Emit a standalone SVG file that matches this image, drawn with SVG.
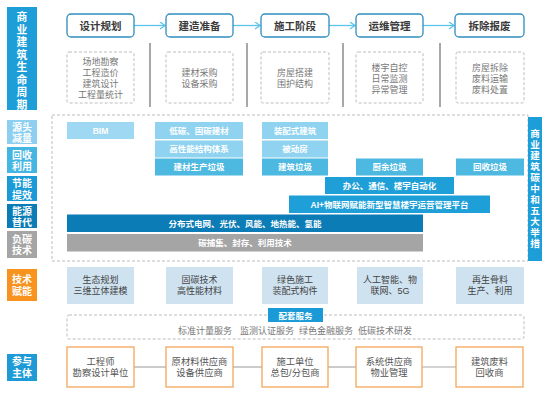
<svg xmlns="http://www.w3.org/2000/svg" width="554" height="402" viewBox="0 0 554 402">
<defs>
<style>
text{font-family:"Liberation Sans","Noto Sans CJK SC",sans-serif;}
.stage{fill:#fff;stroke:#2f8dbd;stroke-width:1.3;}
.stageT{font-size:10.5px;font-weight:700;fill:#3a3a3a;text-anchor:middle;}
.dash{fill:#fff;stroke:#bdbdbd;stroke-width:1;stroke-dasharray:3 2;}
.gt{font-size:9px;fill:#777;text-anchor:middle;}
.sep{stroke:#a8a8a8;stroke-width:2;}
.wt{font-size:10px;font-weight:700;fill:#fff;text-anchor:middle;}
.bt{font-size:8.5px;font-weight:700;fill:#fff;text-anchor:middle;}
.tech{fill:#cfe2f0;}
.tt{font-size:9px;fill:#444;text-anchor:middle;}
.part{fill:#fff;stroke:#f5a65b;stroke-width:1.3;}
.pt{font-size:9.3px;fill:#555;text-anchor:middle;}
.arr{stroke:#5bc4ea;stroke-width:1.3;fill:none;}
.gl{stroke:#a8a8a8;stroke-width:1.2;}
</style>
<marker id="ah" markerWidth="8" markerHeight="8" refX="6" refY="4" orient="auto" markerUnits="userSpaceOnUse">
<path d="M1,0.5 L6,4 L1,7.5" fill="none" stroke="#5bc4ea" stroke-width="1.3"/>
</marker>
</defs>
<rect width="554" height="402" fill="#fff"/>

<!-- left title bar -->
<g id="lifecycle-title">
<rect x="7" y="7" width="30" height="103" fill="#1e9ed8"/>
<text class="wt" style="font-size:10.8px"><tspan x="22" y="21">商</tspan><tspan x="22" y="33.5">业</tspan><tspan x="22" y="46">建</tspan><tspan x="22" y="58.5">筑</tspan><tspan x="22" y="71">生</tspan><tspan x="22" y="83.5">命</tspan><tspan x="22" y="96">周</tspan><tspan x="22" y="108.5">期</tspan></text>
</g>

<!-- connectors -->
<g id="connectors">
<line class="arr" x1="134" y1="25.5" x2="165" y2="25.5" marker-end="url(#ah)"/>
<line class="arr" x1="233" y1="25.5" x2="260" y2="25.5" marker-end="url(#ah)"/>
<line class="arr" x1="329" y1="25.5" x2="355" y2="25.5" marker-end="url(#ah)"/>
<line class="arr" x1="423" y1="25.5" x2="454" y2="25.5" marker-end="url(#ah)"/>
<line class="sep" x1="150" y1="43" x2="150" y2="107"/>
<line class="sep" x1="247" y1="43" x2="247" y2="107"/>
<line class="sep" x1="343" y1="43" x2="343" y2="107"/>
<line class="sep" x1="440" y1="43" x2="440" y2="107"/>
<line class="gl" x1="134" y1="367" x2="166" y2="367"/>
<line class="gl" x1="233" y1="367" x2="262" y2="367"/>
<line class="gl" x1="328" y1="367" x2="356" y2="367"/>
<line class="gl" x1="422" y1="367" x2="456" y2="367"/>
</g>

<!-- stages -->
<g id="stage-design">
<rect class="stage" x="67" y="14" width="67" height="23" rx="4"/>
<text class="stageT" x="100.5" y="29.5">设计规划</text>
<rect class="dash" x="67" y="52" width="67" height="51" rx="2"/>
<text class="gt" x="100.5" y="65">场地勘察</text>
<text class="gt" x="100.5" y="76">工程造价</text>
<text class="gt" x="100.5" y="87">建筑设计</text>
<text class="gt" x="100.5" y="98">工程量统计</text>
</g>
<g id="stage-prep">
<rect class="stage" x="166" y="14" width="67" height="23" rx="4"/>
<text class="stageT" x="199.5" y="29.5">建造准备</text>
<rect class="dash" x="166" y="52" width="67" height="51" rx="2"/>
<text class="gt" x="199.5" y="76">建材采购</text>
<text class="gt" x="199.5" y="87">设备采购</text>
</g>
<g id="stage-construct">
<rect class="stage" x="261" y="14" width="68" height="23" rx="4"/>
<text class="stageT" x="295" y="29.5">施工阶段</text>
<rect class="dash" x="261" y="52" width="68" height="51" rx="2"/>
<text class="gt" x="295" y="76">房屋搭建</text>
<text class="gt" x="295" y="87">围护结构</text>
</g>
<g id="stage-ops">
<rect class="stage" x="356" y="14" width="67" height="23" rx="4"/>
<text class="stageT" x="389.5" y="29.5">运维管理</text>
<rect class="dash" x="356" y="52" width="67" height="51" rx="2"/>
<text class="gt" x="389.5" y="71">楼宇自控</text>
<text class="gt" x="389.5" y="82">日常监测</text>
<text class="gt" x="389.5" y="93">异常管理</text>
</g>
<g id="stage-demolish">
<rect class="stage" x="455" y="14" width="69" height="23" rx="4"/>
<text class="stageT" x="489.5" y="29.5">拆除报废</text>
<rect class="dash" x="456" y="52" width="68" height="51" rx="2"/>
<text class="gt" x="490" y="71">房屋拆除</text>
<text class="gt" x="490" y="82">废料运输</text>
<text class="gt" x="490" y="93">废料处置</text>
</g>

<!-- measures frame -->
<g id="measures-frame">
<rect x="52" y="115" width="476" height="146" style="fill:none;stroke:#bdbdbd;stroke-width:1;stroke-dasharray:3 2"/>
</g>

<!-- category labels -->
<g id="cat-source">
<rect x="7" y="120" width="30" height="24" fill="#8ccff0"/>
<text class="wt" x="22" y="130.5">源头</text>
<text class="wt" x="22" y="142">减量</text>
</g>
<g id="cat-recycle">
<rect x="7" y="147" width="30" height="26" fill="#45b6e2"/>
<text class="wt" x="22" y="158.5">回收</text>
<text class="wt" x="22" y="170">利用</text>
</g>
<g id="cat-efficiency">
<rect x="7" y="176" width="30" height="25" fill="#1a9ad6"/>
<text class="wt" x="22" y="187">节能</text>
<text class="wt" x="22" y="198.5">提效</text>
</g>
<g id="cat-energy">
<rect x="7" y="204" width="30" height="24" fill="#0b7cb5"/>
<text class="wt" x="22" y="214.5">能源</text>
<text class="wt" x="22" y="226">替代</text>
</g>
<g id="cat-negative">
<rect x="7" y="231" width="30" height="27" fill="#a5a5a5"/>
<text class="wt" x="22" y="242.5">负碳</text>
<text class="wt" x="22" y="254">技术</text>
</g>

<!-- measure bars -->
<g id="bar-bim"><rect x="67" y="122" width="67" height="17" fill="#9fd8f2"/><text class="bt" x="100.5" y="133.5">BIM</text></g>
<g id="bar-lowcarbon"><rect x="155" y="122" width="88" height="17" fill="#8fd3f0"/><text class="bt" x="199" y="133.5">低碳、固碳建材</text></g>
<g id="bar-structure"><rect x="155" y="140.5" width="88" height="17" fill="#8fd3f0"/><text class="bt" x="199" y="152">高性能结构体系</text></g>
<g id="bar-matwaste"><rect x="155" y="158.5" width="88" height="17" fill="#4db8e0"/><text class="bt" x="199" y="170">建材生产垃圾</text></g>
<g id="bar-prefab"><rect x="262" y="122" width="66" height="17" fill="#8fd3f0"/><text class="bt" x="295" y="133.5">装配式建筑</text></g>
<g id="bar-passive"><rect x="262" y="140.5" width="66" height="17" fill="#8fd3f0"/><text class="bt" x="295" y="152">被动房</text></g>
<g id="bar-cwaste"><rect x="262" y="158.5" width="66" height="17" fill="#4db8e0"/><text class="bt" x="295" y="170">建筑垃圾</text></g>
<g id="bar-kitchen"><rect x="356" y="158.5" width="67" height="17" fill="#4db8e0"/><text class="bt" x="389.5" y="170">厨余垃圾</text></g>
<g id="bar-recyclable"><rect x="456" y="158.5" width="68" height="17" fill="#4db8e0"/><text class="bt" x="490" y="170">回收垃圾</text></g>
<g id="bar-office"><rect x="325" y="177" width="129" height="17" fill="#1f9fd8"/><text class="bt" x="389.5" y="188.5">办公、通信、楼宇自动化</text></g>
<g id="bar-ai"><rect x="289" y="195.5" width="201" height="17.5" fill="#1f9fd8"/><text class="bt" x="389.5" y="207.5">AI+物联网赋能新型智慧楼宇运营管理平台</text></g>
<g id="bar-grid"><rect x="67" y="214.5" width="356" height="17.5" fill="#0b7cb5"/><text class="bt" x="245" y="226.5">分布式电网、光伏、风能、地热能、氢能</text></g>
<g id="bar-ccus"><rect x="67" y="234" width="356" height="17.5" fill="#a5a5a5"/><text class="bt" x="245" y="246">碳捕集、封存、利用技术</text></g>

<!-- right bar -->
<g id="five-measures-title">
<rect x="528" y="117" width="14" height="144" fill="#1e9ed8"/>
<text class="wt" style="font-size:9.6px"><tspan x="535" y="137">商</tspan><tspan x="535" y="148">业</tspan><tspan x="535" y="159">建</tspan><tspan x="535" y="170">筑</tspan><tspan x="535" y="181">碳</tspan><tspan x="535" y="192">中</tspan><tspan x="535" y="203">和</tspan><tspan x="535" y="214">五</tspan><tspan x="535" y="225">大</tspan><tspan x="535" y="236">举</tspan><tspan x="535" y="247">措</tspan></text>
</g>

<!-- tech enablement -->
<g id="cat-tech">
<rect x="7" y="269" width="30" height="32" fill="#f7931e"/>
<text class="wt" x="22" y="282.5">技术</text>
<text class="wt" x="22" y="294.5">赋能</text>
</g>
<g id="tech-1"><rect class="tech" x="67" y="267" width="67" height="37"/><text class="tt" x="100.5" y="283">生态规划</text><text class="tt" x="100.5" y="294">三维立体建模</text></g>
<g id="tech-2"><rect class="tech" x="166" y="267" width="67" height="37"/><text class="tt" x="199.5" y="283">固碳技术</text><text class="tt" x="199.5" y="294">高性能材料</text></g>
<g id="tech-3"><rect class="tech" x="262" y="267" width="66" height="37"/><text class="tt" x="295" y="283">绿色施工</text><text class="tt" x="295" y="294">装配式构件</text></g>
<g id="tech-4"><rect class="tech" x="357" y="267" width="66" height="37"/><text class="tt" x="390" y="283">人工智能、物</text><text class="tt" x="390" y="294">联网、5G</text></g>
<g id="tech-5"><rect class="tech" x="456" y="267" width="68" height="37"/><text class="tt" x="490" y="283">再生骨料</text><text class="tt" x="490" y="294">生产、利用</text></g>

<!-- supporting services -->
<g id="services">
<rect class="dash" x="67" y="315" width="457" height="24" rx="2"/>
<rect x="268" y="308" width="55" height="14" fill="#1a9ad6"/>
<text class="bt" x="295.5" y="318.5">配套服务</text>
<text class="gt" x="205" y="333.5">标准计量服务</text>
<text class="gt" x="267" y="333.5">监测认证服务</text>
<text class="gt" x="326" y="333.5">绿色金融服务</text>
<text class="gt" x="385" y="333.5">低碳技术研发</text>
</g>

<!-- participants -->
<g id="cat-participants">
<rect x="7" y="354" width="30" height="27" fill="#1e9ad6"/>
<text class="wt" x="22" y="365">参与</text>
<text class="wt" x="22" y="377">主体</text>
</g>
<g id="part-1"><rect class="part" x="67" y="347" width="67" height="40"/><text class="pt" x="100.5" y="365">工程师</text><text class="pt" x="100.5" y="376">勘察设计单位</text></g>
<g id="part-2"><rect class="part" x="166" y="347" width="67" height="40"/><text class="pt" x="199.5" y="365">原材料供应商</text><text class="pt" x="199.5" y="376">设备供应商</text></g>
<g id="part-3"><rect class="part" x="262" y="347" width="66" height="40"/><text class="pt" x="295" y="365">施工单位</text><text class="pt" x="295" y="376">总包/分包商</text></g>
<g id="part-4"><rect class="part" x="356" y="347" width="66" height="40"/><text class="pt" x="389" y="365">系统供应商</text><text class="pt" x="389" y="376">物业管理</text></g>
<g id="part-5"><rect class="part" x="456" y="347" width="67" height="40"/><text class="pt" x="489.5" y="365">建筑废料</text><text class="pt" x="489.5" y="376">回收商</text></g>
</svg>
